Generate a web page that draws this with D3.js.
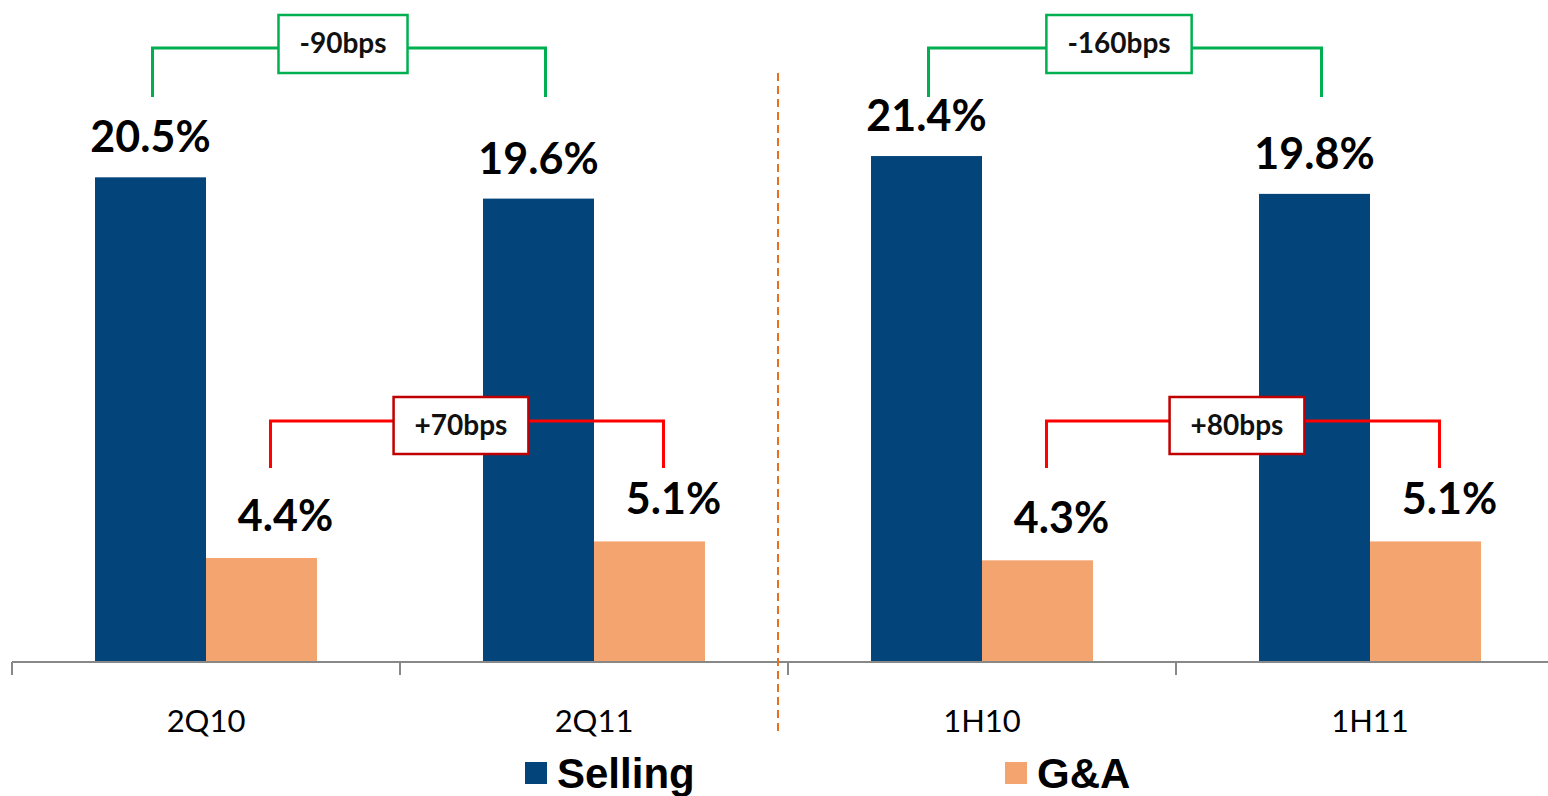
<!DOCTYPE html>
<html><head><meta charset="utf-8">
<script src="https://cdn.jsdelivr.net/npm/d3@7/dist/d3.min.js"></script>
<style>body{margin:0;background:#fff;overflow:hidden}</style>
</head><body><svg id="c" width="1548" height="796"></svg>
<script>
const categories = ["2Q10", "2Q11", "1H10", "1H11"];
const seriesNames = ["Selling", "G&A"];
const sellingValues = [20.5, 19.6, 21.4, 19.8];
const gaValues = [4.4, 5.1, 4.3, 5.1];
const sellingLabels = ["20.5%", "19.6%", "21.4%", "19.8%"];
const gaLabels = ["4.4%", "5.1%", "4.3%", "5.1%"];
const sellingChanges = [["2Q10", "2Q11", "-90bps"], ["1H10", "1H11", "-160bps"]];
const gaChanges = [["2Q10", "2Q11", "+70bps"], ["1H10", "1H11", "+80bps"]];

const colors = {"Selling": "#03457a", "G&A": "#f3a46f"};
const svg = d3.select("#c");

const x0 = d3.scaleBand().domain(categories).range([12, 1564]);
const x1 = d3.scaleBand().domain(seriesNames).range([0, x0.bandwidth()]).paddingOuter(0.748);
const y = d3.scaleLinear().domain([0, 28]).range([662, 0]);

const rows = categories.map((c, i) => ({cat: c, vals: [
  {s: "Selling", v: sellingValues[i], label: sellingLabels[i]},
  {s: "G&A", v: gaValues[i], label: gaLabels[i]}
]}));

// bars
const g = svg.append("g").selectAll("g").data(rows).join("g")
  .attr("transform", d => `translate(${x0(d.cat)},0)`);
g.selectAll("rect").data(d => d.vals).join("rect")
  .attr("x", d => x1(d.s)).attr("width", x1.bandwidth())
  .attr("y", d => y(d.v)).attr("height", d => y(0) - y(d.v))
  .attr("fill", d => colors[d.s]);

// value labels
g.selectAll("text").data(d => d.vals).join("text")
  .attr("x", d => x1(d.s) + x1.bandwidth() / 2 + (d.s === "G&A" ? 24 : 0))
  .attr("y", d => y(d.v) - (d.s === "G&A" ? 27 : 25))
  .attr("text-anchor", "middle")
  .attr("font-family", "Lato, 'Open Sans', sans-serif")
  .attr("font-weight", 700).attr("font-size", 43)
  .attr("fill", "#000")
  .text(d => d.label);

// axis
const axisG = svg.append("g").attr("transform", `translate(0,${y(0)})`)
  .call(d3.axisBottom(x0).tickSize(0).tickPadding(48));
axisG.select(".domain").remove();
axisG.selectAll("text")
  .attr("font-family", "Lato, sans-serif").attr("font-size", 31).attr("fill", "#000");
svg.append("line").attr("x1", 12).attr("x2", 1548).attr("y1", y(0)).attr("y2", y(0))
  .attr("stroke", "#888").attr("stroke-width", 2);
const bounds = categories.map(c => x0(c)).concat([x0.range()[1]]);
svg.selectAll("line.tk").data(bounds).join("line").attr("class", "tk")
  .attr("x1", d => d).attr("x2", d => d).attr("y1", y(0)).attr("y2", y(0) + 13)
  .attr("stroke", "#888").attr("stroke-width", 2);

// divider
const divX = x0("1H10") - 10;
svg.append("line").attr("x1", divX).attr("x2", divX).attr("y1", 73).attr("y2", 735)
  .attr("stroke", "#e8701a").attr("stroke-width", 2).attr("stroke-dasharray", "8,5");

// brackets
function bracket(changes, series, dx, lineY, legY, boxTop, boxH, lineColor, boxColor) {
  changes.forEach(([a, b, label]) => {
    const xa = x0(a) + x1(series) + x1.bandwidth() / 2 + dx;
    const xb = x0(b) + x1(series) + x1.bandwidth() / 2 + dx + 5;
    const bg = svg.append("g");
    bg.append("path")
      .attr("d", `M${xa},${legY}V${lineY}H${xb}V${legY}`)
      .attr("fill", "none").attr("stroke", lineColor).attr("stroke-width", 3);
    const t = bg.append("text").attr("text-anchor", "middle")
      .attr("font-family", "Lato, sans-serif").attr("font-weight", 700).attr("font-size", 28)
      .attr("fill", "#111").text(label);
    const tw = t.node().getComputedTextLength();
    const bw = tw + 42;
    const cx = (xa + xb) / 2 - 6;
    bg.insert("rect", "text").attr("x", cx - bw / 2).attr("y", boxTop).attr("width", bw).attr("height", boxH)
      .attr("fill", "#fff").attr("stroke", boxColor).attr("stroke-width", 2.5);
    t.attr("x", cx).attr("y", boxTop + boxH / 2 + 9);
  });
}
bracket(sellingChanges, "Selling", 2, 48, 97, 15, 58, "#00b050", "#00b050");
bracket(gaChanges, "G&A", 9, 421, 468, 397, 57, "#ff0000", "#c00000");

// legend
const legX = [525, 1005];
const lg = svg.append("g").selectAll("g").data(seriesNames).join("g")
  .attr("transform", (d, i) => `translate(${legX[i]},0)`);
lg.append("rect").attr("x", 0).attr("y", 762).attr("width", 22).attr("height", 22)
  .attr("fill", d => colors[d]);
lg.append("text").attr("x", 32).attr("y", 788)
  .attr("font-family", "'Liberation Sans', Arial, sans-serif").attr("font-weight", 700)
  .attr("font-size", 42).attr("fill", "#000").text(d => d);
</script></body></html>
